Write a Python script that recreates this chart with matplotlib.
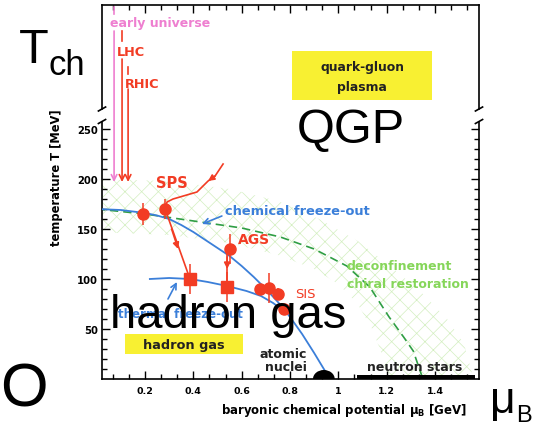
import numpy as np
import matplotlib
matplotlib.use("Agg")
import matplotlib.pyplot as plt
from matplotlib.patches import Rectangle, Ellipse, Polygon
from matplotlib.ticker import FixedLocator, MultipleLocator, FuncFormatter

# ---- data ----
# chemical freeze-out curve (blue)
mu_chem = [0.0, 0.1, 0.2, 0.25, 0.3, 0.35, 0.4, 0.45, 0.5, 0.55, 0.6, 0.65, 0.7, 0.75,
           0.8, 0.85, 0.9, 0.94, 0.965]
T_chem = [170, 169, 166, 163.5, 160, 154, 147, 139, 131, 123, 113, 102, 90, 77,
          62, 45, 26, 10, 0]

# thermal freeze-out curve (blue)
mu_therm = [0.22, 0.3, 0.386, 0.46, 0.54, 0.62, 0.68, 0.73, 0.78]
T_therm = [100, 101, 100, 97, 93, 88, 83, 76, 67]

# deconfinement / chiral restoration (green dashed) and its band
mu_dec = [0.0, 0.2, 0.43, 0.6, 0.76, 0.9, 1.035, 1.13, 1.21, 1.27, 1.31, 1.35]
T_dec = [170, 165, 157, 151, 142, 130, 113, 92, 62, 42, 28, 0]
mu_band_out = [0.0, 0.3, 0.55, 0.75, 0.92, 1.08, 1.22, 1.35, 1.45, 1.52, 1.56]
T_band_out = [200, 198, 190, 178, 160, 138, 112, 85, 60, 35, 0]
mu_band_in = [0.0, 0.3, 0.55, 0.75, 0.9, 1.0, 1.08, 1.14, 1.18, 1.2]
T_band_in = [147, 144, 136, 124, 110, 95, 75, 50, 25, 0]

# freeze-out points (red)
mu_circ = [0.19, 0.283, 0.551, 0.676, 0.713, 0.75, 0.775]
T_circ = [165, 170, 130, 90, 91, 85, 70]
err_circ = [11, 10, 15, 0, 15, 6, 0]
mu_sq = [0.386, 0.539]
T_sq = [100, 92]
err_sq = [15, 15]

# trajectories (red)
mu_sps = [0.523, 0.49, 0.461, 0.415, 0.316, 0.291, 0.283]
T_sps = [215, 203, 198, 187, 180, 177, 170]

# collider arrows
coll_names = ["early universe", "LHC", "RHIC"]
coll_mu = [0.072, 0.105, 0.13]

blue = "#3b7fd9"
red = "#f23c24"
pink = "#ee7fd0"
gtext = "#86d65a"
gdash = "#2f9e44"
yellow = "#f8f032"

plt.rcParams["hatch.linewidth"] = 0.5
plt.rcParams["font.family"] = "DejaVu Sans"

W, H = 550, 427
fig = plt.figure(figsize=(W / 100, H / 100), dpi=100)
ax = fig.add_axes([102 / W, (H - 380) / H, 377 / W, 374 / H])
ax.set_xlim(0.022, 1.582)
ax.set_ylim(0, 374)

# hatched band
band = Polygon(list(zip(mu_band_out, T_band_out)) + list(zip(mu_band_in, T_band_in))[::-1],
               closed=True, facecolor="none", edgecolor="#d3efc0", hatch="xx", lw=0, zorder=1)
ax.add_patch(band)

ax.plot(mu_dec, T_dec, color=gdash, lw=1.2, ls=(0, (5, 3)), zorder=2)
ax.plot(mu_chem, T_chem, color=blue, lw=1.3, zorder=3)
ax.plot(mu_therm, T_therm, color=blue, lw=1.3, zorder=3)

# red trajectories
ax.plot(mu_sps, T_sps, color=red, lw=1.2, zorder=4)
ax.annotate("", xy=(mu_sps[2], T_sps[2]), xytext=(mu_sps[1], T_sps[1]),
            arrowprops=dict(arrowstyle="-|>", color=red, lw=1.2, mutation_scale=9,
                            shrinkA=0, shrinkB=0), zorder=4)
ax.plot([mu_circ[1], mu_sq[0]], [T_circ[1], T_sq[0]], color=red, lw=1.2, zorder=4)
ax.annotate("", xy=(0.337, 130), xytext=(0.31, 150),
            arrowprops=dict(arrowstyle="-|>", color=red, lw=1.2, mutation_scale=9,
                            shrinkA=0, shrinkB=0), zorder=4)
ax.plot([0.54, 0.54], [T_circ[2], T_sq[1]], color=red, lw=1.2, zorder=4)
ax.annotate("", xy=(0.54, 110), xytext=(0.54, 122),
            arrowprops=dict(arrowstyle="-|>", color=red, lw=1.2, mutation_scale=9,
                            shrinkA=0, shrinkB=0), zorder=4)

ax.errorbar(mu_circ, T_circ, yerr=err_circ, fmt="o", color=red, ms=8, elinewidth=1.1,
            capsize=0, zorder=5)
ax.errorbar(mu_sq, T_sq, yerr=err_sq, fmt="s", color=red, ms=8, elinewidth=1.1,
            capsize=0, zorder=5)

# vertical collider arrows with labels
seg_top = [(372, 365), (348, 338), (312, 305)]
main_top = [348, 320, 290]
lab_T = [357, 327, 295]
lab_mu = [0.055, 0.084, 0.117]
for i, name in enumerate(coll_names):
    c = pink if i == 0 else red
    ax.plot([coll_mu[i]] * 2, seg_top[i], color=c, lw=1.2, zorder=4)
    ax.annotate("", xy=(coll_mu[i], 197), xytext=(coll_mu[i], main_top[i]),
                arrowprops=dict(arrowstyle="->", color=c, lw=1.2, mutation_scale=10,
                                shrinkA=0, shrinkB=0), zorder=4)
    ax.text(lab_mu[i], lab_T[i], name, color=c, fontsize=9.3 if i else 9,
            fontweight="bold", ha="left", va="center", zorder=6)

# blue arrows and labels
ax.annotate("", xy=(0.436, 155), xytext=(0.518, 163),
            arrowprops=dict(arrowstyle="->", color=blue, lw=1.2, mutation_scale=10,
                            shrinkA=0, shrinkB=0), zorder=4)
ax.text(0.531, 168, "chemical freeze-out", color=blue, fontsize=9.4, fontweight="bold",
        ha="left", va="center", zorder=6)
ax.annotate("", xy=(0.332, 97), xytext=(0.295, 80),
            arrowprops=dict(arrowstyle="->", color=blue, lw=1.2, mutation_scale=10,
                            shrinkA=0, shrinkB=0), zorder=4)
ax.text(0.347, 65, "thermal freeze-out", color=blue, fontsize=8.5, fontweight="bold",
        ha="center", va="center", zorder=6)

ax.text(0.31, 197, "SPS", color=red, fontsize=10.5, fontweight="bold", ha="center", va="center")
ax.text(0.651, 140, "AGS", color=red, fontsize=10, fontweight="bold", ha="center", va="center")
ax.text(0.862, 85, "SIS", color=red, fontsize=9.5, ha="center", va="center")

ax.text(1.035, 113, "deconfinement", color=gtext, fontsize=9, fontweight="bold",
        ha="left", va="center")
ax.text(1.035, 95, "chiral restoration", color=gtext, fontsize=9, fontweight="bold",
        ha="left", va="center")

# yellow boxes
ax.add_patch(Rectangle((0.808, 279), 0.58, 49, facecolor=yellow, edgecolor="none", zorder=2))
ax.text(1.098, 312, "quark-gluon", fontsize=8.9, fontweight="bold", ha="center", va="center",
        color="#222222", zorder=3)
ax.text(1.098, 292, "plasma", fontsize=8.9, fontweight="bold", ha="center", va="center",
        color="#222222", zorder=3)
ax.add_patch(Rectangle((0.117, 25), 0.488, 20, facecolor=yellow, edgecolor="none", zorder=2))
ax.text(0.361, 34, "hadron gas", fontsize=9.3, fontweight="bold", ha="center", va="center",
        color="#222222", zorder=3)

# nuclei and neutron stars
ax.add_patch(Ellipse((0.94, 0), 0.09, 18, facecolor="black", edgecolor="none", zorder=5))
ax.add_patch(Rectangle((1.077, 0), 0.49, 4, facecolor="black", edgecolor="none", zorder=5))
ax.text(0.773, 25, "atomic", fontsize=9, fontweight="bold", ha="center", va="center", color="#222222")
ax.text(0.785, 12, "nuclei", fontsize=9, fontweight="bold", ha="center", va="center", color="#222222")
ax.text(1.317, 12, "neutron stars", fontsize=9, fontweight="bold", ha="center", va="center",
        color="#222222", zorder=6)

# axes, broken y axis
ax.spines["left"].set_visible(False)
ax.spines["right"].set_visible(False)
ytr = ax.get_yaxis_transform()
for xa in (0, 1):
    ax.plot([xa, xa], [0, 257.5], color="black", lw=1.2, transform=ytr, clip_on=False)
    ax.plot([xa, xa], [270, 374], color="black", lw=1.2, transform=ytr, clip_on=False)
    ax.plot([xa - 0.0095, xa + 0.0095], [268, 272], color="black", lw=1.2, transform=ytr, clip_on=False)
    ax.plot([xa - 0.0095, xa + 0.0095], [255.5, 259.5], color="black", lw=1.2, transform=ytr, clip_on=False)
for s in ("top", "bottom"):
    ax.spines[s].set_linewidth(1.2)

ax.yaxis.set_major_locator(FixedLocator([50, 100, 150, 200, 250]))
ax.yaxis.set_minor_locator(FixedLocator([t for t in range(10, 260, 10) if t % 50]))
ax.xaxis.set_major_locator(FixedLocator([0.2, 0.4, 0.6, 0.8, 1.0, 1.2, 1.4]))
ax.xaxis.set_minor_locator(MultipleLocator(0.2 / 3))
ax.xaxis.set_major_formatter(FuncFormatter(lambda v, p: f"{v:g}"))
ax.tick_params(which="both", direction="in", top=True, right=True, width=1.0)
ax.tick_params(which="major", length=6)
ax.tick_params(which="minor", length=3.5)
ax.tick_params(axis="y", labelsize=7.2, pad=3)
ax.tick_params(axis="x", labelsize=6.8, pad=5)
for lab in ax.get_xticklabels() + ax.get_yticklabels():
    lab.set_fontweight("bold")

def px(x, y):
    return x / W, 1 - y / H

fig.text(*px(57, 178), "temperature T [MeV]", rotation=90, fontsize=8.3, fontweight="bold",
         ha="center", va="center")
fig.text(*px(344, 411), r"baryonic chemical potential μ$_{\mathbf{B}}$ [GeV]", fontsize=8.5,
         fontweight="bold", ha="center", va="center")

# big overlay labels
big = "Liberation Sans"
fig.text(*px(19, 63), "T", fontsize=35, family=big, va="baseline")
fig.text(*px(49, 75), "ch", fontsize=25, family=big, va="baseline")
fig.text(*px(297, 143), "QGP", fontsize=35, family=big, va="baseline")
fig.text(*px(110, 328), "hadron gas", fontsize=34, family=big, va="baseline", zorder=10)
fig.text(*px(0, 407), "O", fontsize=44, family=big, va="baseline")
fig.text(*px(490, 413), "μ", fontsize=32, family=big, va="baseline")
fig.text(*px(516, 422), "B", fontsize=17, family=big, va="baseline")

fig.savefig("out.png", dpi=100)
